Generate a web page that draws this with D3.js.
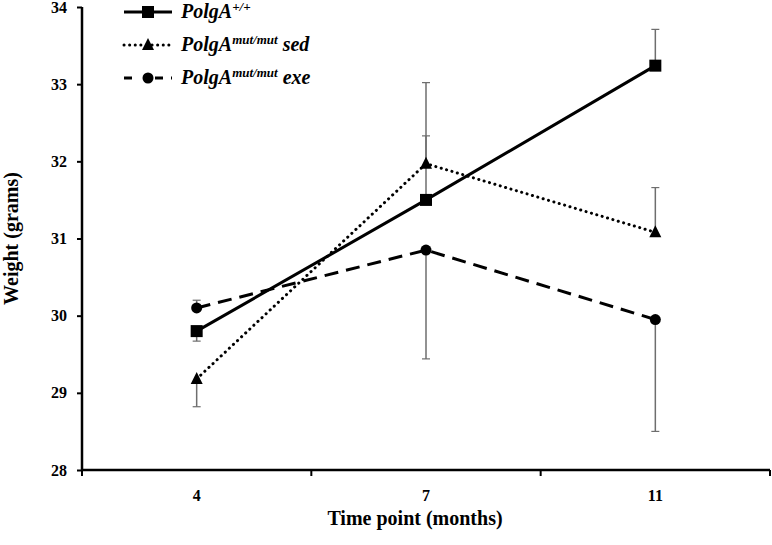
<!DOCTYPE html>
<html>
<head>
<meta charset="utf-8">
<script src="https://cdn.jsdelivr.net/npm/d3@7"></script>
<style>
  body { margin: 0; background: #fff; }
  text { font-family: "Liberation Serif", "DejaVu Serif", serif; }
</style>
</head>
<body>
<svg width="772" height="545"></svg>
<script>
// time points (months)
const months = ['4', '7', '11'];
const yTicks = [28, 29, 30, 31, 32, 33, 34];

// mean weight (grams)
const wildType = [29.8, 31.5, 33.24];
const mutSed = [29.18, 31.97, 31.08];
const mutExe = [30.1, 30.85, 29.95];

// one-sided error bars: positive = drawn up, negative = drawn down
const wildTypeErr = [-0.13, 0.83, 0.47];
const mutSedErr = [-0.36, 1.05, 0.58];
const mutExeErr = [0.1, -1.41, -1.45];

const series = [
    { sup: '+/+', tail: '', values: wildType, err: wildTypeErr, dash: null, marker: 'square' },
    { sup: 'mut/mut', tail: ' sed', values: mutSed, err: mutSedErr, dash: '0.1 5.5', marker: 'triangle' },
    { sup: 'mut/mut', tail: ' exe', values: mutExe, err: mutExeErr, dash: '14 8', marker: 'circle' }
];

const serif = '"Liberation Serif", "DejaVu Serif", serif';
const svg = d3.select('svg');
const margin = { top: 7, right: 2, bottom: 75, left: 82 };
const width = 772 - margin.left - margin.right;
const height = 545 - margin.top - margin.bottom;

const g = svg.append('g').attr('transform', `translate(${margin.left},${margin.top})`);

const xScale = d3.scaleBand().domain(months).range([0, width]);
const yScale = d3.scaleLinear().domain([28, 34]).range([height, 0]);
const cx = m => xScale(m) + xScale.bandwidth() / 2;

// axes
const yAxis = d3.axisLeft(yScale).tickValues(yTicks).tickFormat(d3.format('d')).tickSize(5).tickPadding(10);
const yG = g.append('g').call(yAxis).attr('font-family', serif);

// x axis ticks sit at the band edges, labels at the band centres
const xG = g.append('g').attr('transform', `translate(0,${height})`);
const edges = months.map(m => xScale(m)).concat([width]);
xG.append('line').attr('x1', 0).attr('x2', width).attr('stroke', '#000').attr('stroke-width', 2.5);
xG.selectAll('.edge').data(edges).join('line')
    .attr('x1', d => d).attr('x2', d => d)
    .attr('y1', 0).attr('y2', 6)
    .attr('stroke', '#000').attr('stroke-width', 2);
xG.selectAll('.lab').data(months).join('text')
    .attr('x', d => cx(d)).attr('y', 31)
    .attr('text-anchor', 'middle')
    .attr('font-family', serif)
    .style('font-size', '16px').style('font-weight', 'bold')
    .text(d => d);

yG.select('.domain').attr('stroke-width', 2.5).attr('d', `M0,0V${height}`);
yG.selectAll('.tick line').attr('stroke-width', 2);
yG.selectAll('.tick text').style('font-size', '16px').style('font-weight', 'bold');

// axis titles
g.append('text')
    .attr('transform', `translate(${-64},${height / 2}) rotate(-90)`)
    .attr('text-anchor', 'middle')
    .attr('font-family', serif)
    .style('font-size', '20px').style('font-weight', 'bold')
    .text('Weight (grams)');
g.append('text')
    .attr('x', 333).attr('y', height + 55)
    .attr('text-anchor', 'middle')
    .attr('font-family', serif)
    .style('font-size', '20px').style('font-weight', 'bold')
    .text('Time point (months)');

// error bars
series.forEach(s => {
    const eg = g.append('g');
    s.values.forEach((v, i) => {
        const x = cx(months[i]);
        const yEnd = yScale(v + s.err[i]);
        eg.append('line')
            .attr('x1', x).attr('x2', x)
            .attr('y1', yScale(v)).attr('y2', yEnd)
            .attr('stroke', '#6e6e6e').attr('stroke-width', 1.5);
        eg.append('line')
            .attr('x1', x - 4).attr('x2', x + 4)
            .attr('y1', yEnd).attr('y2', yEnd)
            .attr('stroke', '#6e6e6e').attr('stroke-width', 1.2);
    });
});

// lines
const line = d3.line()
    .x((d, i) => cx(months[i]))
    .y(d => yScale(d));

function drawMarker(sel, type, x, y) {
    if (type === 'square') {
        sel.append('rect').attr('x', x - 6).attr('y', y - 6).attr('width', 12).attr('height', 12).attr('fill', '#000');
    } else if (type === 'triangle') {
        sel.append('path').attr('d', `M${x},${y - 7}L${x + 6},${y + 5}L${x - 6},${y + 5}Z`).attr('fill', '#000');
    } else {
        sel.append('circle').attr('cx', x).attr('cy', y).attr('r', 5.5).attr('fill', '#000');
    }
}

series.forEach(s => {
    g.append('path')
        .datum(s.values)
        .attr('d', line)
        .attr('fill', 'none')
        .attr('stroke', '#000')
        .attr('stroke-width', 3)
        .attr('stroke-linecap', s.dash === '0.1 5.5' ? 'round' : 'butt')
        .attr('stroke-dasharray', s.dash);
    s.values.forEach((v, i) => drawMarker(g, s.marker, cx(months[i]), yScale(v)));
});

// legend
const legend = svg.append('g').attr('transform', 'translate(124,12)');
series.forEach((s, i) => {
    const row = legend.append('g').attr('transform', `translate(0,${i * 33})`);
    row.append('line')
        .attr('x1', 0).attr('x2', 48).attr('y1', 0).attr('y2', 0)
        .attr('stroke', '#000').attr('stroke-width', 3)
        .attr('stroke-linecap', s.dash === '0.1 5.5' ? 'round' : 'butt')
        .attr('stroke-dasharray', s.dash === '14 8' ? '8 9 0 14 8' : s.dash);
    drawMarker(row, s.marker, 24, 0);
    const t = row.append('text')
        .attr('x', 57).attr('y', 6)
        .attr('font-family', serif)
        .style('font-size', '20px').style('font-weight', 'bold').style('font-style', 'italic');
    t.append('tspan').text('PolgA');
    t.append('tspan').attr('dy', -7).style('font-size', '13px').text(s.sup);
    t.append('tspan').attr('dy', 7).text(s.tail);
});
</script>
</body>
</html>
